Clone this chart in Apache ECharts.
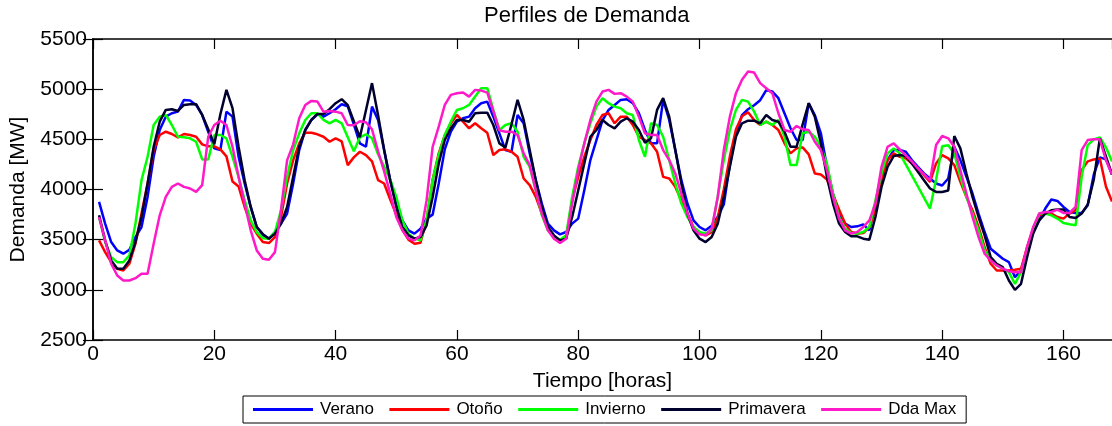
<!DOCTYPE html>
<html>
<head>
<meta charset="utf-8">
<script src="https://cdn.jsdelivr.net/npm/echarts@6/dist/echarts.min.js"></script>
<style>
html,body{margin:0;padding:0;background:#fff;}
#chart{width:1112px;height:426px;}
</style>
</head>
<body>
<div id="chart"></div>
<script>
const titleText = 'Perfiles de Demanda';
const xName = 'Tiempo [horas]';
const yName = 'Demanda [MW]';
const seriesNames = ['Verano', 'Otoño', 'Invierno', 'Primavera', 'Dda Max'];
const xTicks = [0, 20, 40, 60, 80, 100, 120, 140, 160];
const yTicks = [2500, 3000, 3500, 4000, 4500, 5000, 5500];

const verano = [
3876,3660,3476,3393,3360,3400,3526,3626,3926,4326,4593,4726,4760,4776,4893,4886,4843,4743,4576,4410,4393,4776,4726,4326,4060,3826,3626,3550,
3510,3576,3660,3760,4060,4393,4593,4693,4750,4726,4760,4800,4850,4830,4650,4460,4426,4826,4693,4393,4093,3860,3693,3593,3560,3610,3710,3750,
4060,4400,4576,4676,4710,4726,4810,4860,4876,4726,4560,4393,4376,4743,4660,4360,4093,3860,3660,3593,3553,3576,3660,3710,3993,4293,4493,4690,
4793,4843,4893,4900,4860,4760,4593,4460,4460,4893,4693,4393,4093,3860,3693,3626,3593,3640,3730,3850,4250,4560,4740,4800,4840,4890,4990,4976,
4910,4760,4610,4493,4493,4860,4743,4560,4226,3960,3760,3660,3626,3633,3653,3593,3860,4126,4293,4393,4393,4376,4293,4226,4160,4110,4060,4040,
4110,4426,4293,4126,3960,3760,3576,3410,3360,3310,3276,3126,3193,3393,3576,3693,3810,3900,3886,3826,3776,3766,3766,3843,4150,4320,4300,4150
];
const otono = [
3493,3376,3276,3210,3193,3260,3460,3760,4060,4393,4543,4576,4553,4520,4553,4543,4526,4450,4430,4430,4400,4330,4080,4030,3826,3660,3560,3476,
3466,3526,3726,4060,4293,4460,4566,4566,4550,4526,4476,4510,4480,4243,4320,4376,4343,4280,4093,4060,3900,3750,3600,3500,3460,3470,3700,4100,
4360,4543,4660,4743,4676,4610,4660,4610,4566,4343,4393,4400,4376,4326,4110,4043,3926,3760,3626,3526,3493,3510,3893,4126,4326,4493,4643,4743,
4760,4660,4726,4726,4643,4526,4493,4460,4376,4126,4110,4026,3893,3760,3626,3560,3543,3576,3720,4000,4330,4600,4730,4770,4693,4643,4676,4643,
4593,4460,4360,4410,4420,4350,4160,4150,4100,3950,3800,3660,3576,3560,3566,3626,3793,4093,4293,4360,4326,4310,4260,4210,4143,4076,4260,4343,
4310,4243,4076,3926,3793,3626,3426,3260,3193,3193,3193,3200,3210,3426,3610,3743,3760,3760,3726,3710,3760,3793,4193,4280,4300,4310,4030,3880
];
const invierno = [
3726,3476,3326,3276,3276,3343,3660,4093,4326,4643,4726,4743,4643,4526,4520,4510,4476,4300,4300,4543,4543,4510,4326,4126,3893,3693,3576,3515,
3510,3576,3793,4126,4393,4560,4693,4760,4760,4693,4660,4693,4660,4520,4380,4520,4550,4510,4350,4230,4100,3926,3693,3560,3510,3493,3700,4100,
4343,4543,4676,4793,4810,4843,4926,5010,5010,4793,4593,4643,4660,4576,4326,4226,3993,3743,3593,3526,3500,3543,3926,4226,4460,4660,4826,4910,
4860,4826,4810,4760,4743,4493,4326,4660,4643,4526,4293,4060,3860,3726,3626,3576,3560,3593,3926,4293,4593,4793,4893,4876,4776,4643,4676,4643,
4693,4526,4243,4243,4560,4576,4526,4426,4260,3960,3726,3610,3566,3560,3576,3626,3893,4160,4360,4410,4360,4250,4140,4030,3920,3810,4100,4430,
4440,4360,4126,3926,3760,3593,3393,3293,3243,3210,3176,3060,3176,3393,3593,3760,3760,3743,3710,3666,3653,3643,4126,4443,4500,4520,4420,4280
];
const primavera = [
3743,3493,3293,3210,3210,3293,3476,3726,4060,4426,4676,4793,4800,4783,4843,4850,4850,4743,4600,4450,4750,4993,4810,4426,4093,3826,3626,3555,
3510,3560,3660,3826,4126,4426,4593,4693,4753,4753,4800,4860,4900,4840,4680,4520,4790,5060,4740,4393,4093,3826,3626,3543,3510,3526,3643,3926,
4260,4493,4610,4693,4693,4676,4760,4766,4766,4643,4460,4420,4650,4893,4693,4393,4093,3826,3626,3543,3493,3510,3726,3993,4260,4526,4593,4693,
4643,4610,4676,4710,4676,4593,4466,4510,4793,4910,4726,4393,4060,3760,3593,3510,3476,3526,3660,3926,4226,4526,4660,4686,4686,4660,4743,4693,
4676,4576,4426,4426,4650,4860,4726,4460,4126,3860,3660,3576,3533,3533,3510,3500,3726,4026,4226,4333,4343,4333,4260,4176,4093,4010,3976,3976,
3990,4533,4410,4160,3926,3726,3543,3326,3260,3226,3093,3000,3060,3326,3560,3693,3760,3793,3800,3800,3726,3716,3760,3850,4100,4510,4330,4150
];
const ddaMax = [
3726,3493,3260,3143,3093,3093,3116,3160,3160,3460,3743,3926,4026,4060,4026,4010,3976,4043,4526,4643,4686,4643,4426,4126,3860,3593,3393,3310,
3300,3376,3800,4290,4450,4710,4843,4883,4876,4776,4783,4776,4760,4643,4640,4680,4670,4600,4380,4180,3960,3726,3593,3510,3493,3543,3893,4426,
4626,4843,4943,4960,4966,4926,4993,4986,4966,4780,4590,4576,4576,4543,4360,4243,3993,3760,3593,3510,3466,3510,3860,4193,4460,4693,4876,4976,
4993,4953,4960,4926,4876,4726,4560,4543,4543,4393,4293,4160,3960,3760,3610,3553,3543,3610,3926,4393,4726,4960,5093,5176,5166,5060,5010,4960,
4760,4593,4576,4633,4600,4593,4476,4393,4193,3926,3710,3593,3560,3576,3626,3693,3860,4226,4426,4460,4400,4340,4280,4210,4150,4090,4443,4533,
4510,4426,4193,3960,3726,3526,3360,3293,3243,3210,3186,3176,3176,3426,3626,3760,3776,3776,3800,3766,3766,3826,4393,4493,4500,4500,4293,4150
];
const colors = ['#0000ff', '#ff0000', '#00ff00', '#00002e', '#ff19c8'];
const allValues = [verano, otono, invierno, primavera, ddaMax];

const FONT = 'Liberation Sans, Arial, sans-serif';
const chart = echarts.init(document.getElementById('chart'), null, {renderer: 'canvas'});

function pairs(vals) { return vals.map((v, i) => [i + 1, v]); }

const axisCommon = {
  axisLine: {show: true, lineStyle: {color: '#000', width: 1.5}},
  axisTick: {show: true, inside: true, length: 10, lineStyle: {color: '#000', width: 1.2}},
  splitLine: {show: false}
};

const option = {
  backgroundColor: '#fff',
  animation: false,
  graphic: [{
    type: 'text', left: 484, top: 5,
    style: {text: titleText, font: '22px ' + FONT, fill: '#000'}
  }],
  legend: {
    data: seriesNames.map(n => ({name: n, icon: 'rect'})),
    left: 243, top: 396,
    orient: 'horizontal',
    padding: [5, 10],
    itemWidth: 60, itemHeight: 3, itemGap: 15.5,
    borderColor: '#000', borderWidth: 1,
    backgroundColor: '#fff',
    textStyle: {fontFamily: FONT, fontSize: 17, color: '#000', padding: [0, 0, 0, 2]}
  },
  grid: {left: 93, right: -3, top: 39, bottom: 86, containLabel: false},
  xAxis: [
    Object.assign({
      type: 'value', min: 0, max: 168, interval: 20, position: 'bottom',
      name: xName, nameLocation: 'middle', nameGap: 31,
      nameTextStyle: {fontFamily: FONT, fontSize: 21, color: '#000'},
      axisLabel: {fontFamily: FONT, fontSize: 21, color: '#000', margin: 4, showMaxLabel: false,
        formatter: v => (xTicks.indexOf(v) >= 0 ? String(v) : '')}
    }, axisCommon),
    Object.assign({
      type: 'value', min: 0, max: 168, interval: 20, position: 'top',
      axisLabel: {show: false}
    }, axisCommon)
  ],
  yAxis: [
    Object.assign({
      type: 'value', min: 2500, max: 5500, interval: 500, position: 'left',
      name: yName, nameLocation: 'middle', nameGap: 64,
      nameTextStyle: {fontFamily: FONT, fontSize: 21, color: '#000'},
      axisLabel: {fontFamily: FONT, fontSize: 21, color: '#000', margin: 6,
        formatter: v => (yTicks.indexOf(v) >= 0 ? String(v) : '')}
    }, axisCommon),
    Object.assign({
      type: 'value', min: 2500, max: 5500, interval: 500, position: 'right',
      axisLabel: {show: false}
    }, axisCommon)
  ],
  series: seriesNames.map((name, i) => ({
    name: name,
    type: 'line',
    data: pairs(allValues[i]),
    symbol: 'none',
    showSymbol: false,
    clip: true,
    color: colors[i],
    lineStyle: {color: colors[i], width: 2.5},
    z: 2 + i
  }))
};
chart.setOption(option);
</script>
</body>
</html>
